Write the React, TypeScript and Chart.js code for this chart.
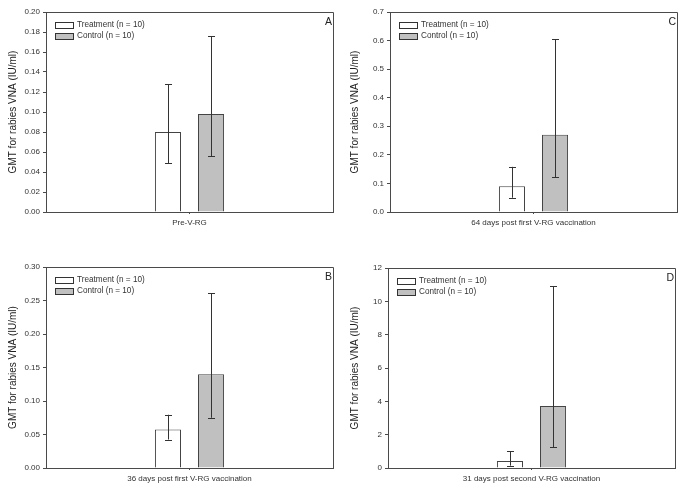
import React, { useEffect, useRef } from "react";
import { Chart, registerables } from "chart.js";

Chart.register(...registerables);

const FONT = "'Liberation Sans', Arial, sans-serif";

// Panels in reading order: top-left, top-right, bottom-left, bottom-right
const panelLetters = ["A", "C", "B", "D"];
const categoryLabels = [
  "Pre-V-RG",
  "64 days post first V-RG vaccination",
  "36 days post first V-RG vaccination",
  "31 days post second V-RG vaccination",
];
const seriesNames = ["Treatment (n = 10)", "Control (n = 10)"];

const treatmentGMT = [0.08, 0.09, 0.0575, 0.42];
const treatmentLower = [0.049, 0.05, 0.0425, 0.14];
const treatmentUpper = [0.128, 0.158, 0.0795, 1.0];

const controlGMT = [0.098, 0.27, 0.14, 3.72];
const controlLower = [0.056, 0.121, 0.075, 1.26];
const controlUpper = [0.176, 0.604, 0.261, 10.9];

const yMaxes = [0.2, 0.7, 0.3, 12];
const ySteps = [0.02, 0.1, 0.05, 2];
const yDecimals = [2, 1, 2, 0];
const yTitle = "GMT for rabies VNA (IU/ml)";

// layout of each canvas: [x, y, w, h, areaLeft, areaRight, areaTop, areaBottom]
const panelBoxes = [
  [0, 0, 342, 247, 46, 333, 12, 212],
  [342, 0, 343, 247, 48, 335, 12, 212],
  [0, 247, 342, 247, 46, 333, 20, 221],
  [342, 247, 343, 247, 46, 333, 21, 221],
];

const LINE = "#4a4a4a";

const extrasPlugin = {
  id: "extras",
  afterDatasetsDraw(chart: any, _args: any, opts: any) {
    const ctx = chart.ctx;
    const ya = chart.scales.y;
    ctx.save();
    ctx.strokeStyle = "#333";
    ctx.lineWidth = 1;
    opts.errors.forEach((err: any, di: number) => {
      const meta = chart.getDatasetMeta(di);
      meta.data.forEach((el: any, j: number) => {
        const x = Math.round(el.x) + 0.5;
        const yLo = ya.getPixelForValue(err.lower[j]);
        const yHi = ya.getPixelForValue(err.upper[j]);
        ctx.beginPath();
        ctx.moveTo(x, yLo);
        ctx.lineTo(x, yHi);
        ctx.moveTo(x - 3.5, Math.round(yLo) + 0.5);
        ctx.lineTo(x + 3.5, Math.round(yLo) + 0.5);
        ctx.moveTo(x - 3.5, Math.round(yHi) + 0.5);
        ctx.lineTo(x + 3.5, Math.round(yHi) + 0.5);
        ctx.stroke();
      });
    });
    ctx.restore();
  },
  afterDraw(chart: any, _args: any, opts: any) {
    const ctx = chart.ctx;
    const a = chart.chartArea;
    ctx.save();
    ctx.strokeStyle = LINE;
    ctx.lineWidth = 1;
    ctx.beginPath();
    ctx.moveTo(Math.round(a.left) + 0.5, Math.round(a.top) + 0.5);
    ctx.lineTo(Math.round(a.right) + 0.5, Math.round(a.top) + 0.5);
    ctx.lineTo(Math.round(a.right) + 0.5, Math.round(a.bottom) + 0.5);
    ctx.stroke();
    ctx.font = `8.2px ${FONT}`;
    ctx.textBaseline = "middle";
    ctx.textAlign = "left";
    chart.data.datasets.forEach((ds: any, i: number) => {
      const cy = Math.round(a.top + 13 + i * 11);
      const bx = Math.round(a.left + 9) + 0.5;
      ctx.fillStyle = ds.backgroundColor;
      ctx.fillRect(bx, cy - 3 + 0.5, 18, 6);
      ctx.strokeStyle = "#333";
      ctx.strokeRect(bx, cy - 3 + 0.5, 18, 6);
      ctx.fillStyle = "#333";
      ctx.fillText(ds.label, a.left + 31, cy);
    });
    ctx.font = `10.5px ${FONT}`;
    ctx.textAlign = "right";
    ctx.fillStyle = "#222";
    ctx.fillText(opts.letter, a.right - 1, a.top + 10);
    ctx.restore();
  },
};

function Panel({ idx }: { idx: number }) {
  const ref = useRef<HTMLCanvasElement>(null);
  const box = panelBoxes[idx];
  useEffect(() => {
    const [, , w, h, left, right, top, bottom] = box;
    const dec = yDecimals[idx];
    const chart = new Chart(ref.current as HTMLCanvasElement, {
      type: "bar",
      data: {
        labels: [categoryLabels[idx]],
        datasets: [
          {
            label: seriesNames[0],
            data: [treatmentGMT[idx]],
            backgroundColor: "#ffffff",
            borderColor: "#444",
            borderWidth: 1,
            categoryPercentage: 0.3,
            barPercentage: 0.605,
          },
          {
            label: seriesNames[1],
            data: [controlGMT[idx]],
            backgroundColor: "#c0c0c0",
            borderColor: "#444",
            borderWidth: 1,
            categoryPercentage: 0.3,
            barPercentage: 0.605,
          },
        ],
      },
      options: {
        responsive: false,
        animation: false,
        devicePixelRatio: 1,
        layout: { padding: { top, right: w - right, left: 0, bottom: 0 } },
        plugins: {
          legend: { display: false },
          tooltip: { enabled: false },
          extras: {
            letter: panelLetters[idx],
            errors: [
              { lower: [treatmentLower[idx]], upper: [treatmentUpper[idx]] },
              { lower: [controlLower[idx]], upper: [controlUpper[idx]] },
            ],
          },
        } as any,
        scales: {
          x: {
            type: "category",
            offset: true,
            grid: {
              offset: false,
              drawOnChartArea: false,
              drawTicks: true,
              tickLength: 2,
              color: LINE,
            },
            border: { color: LINE },
            ticks: { padding: 4, color: "#333", font: { size: 8, family: FONT } },
            afterFit: (s: any) => {
              s.height = h - bottom;
            },
          },
          y: {
            min: 0,
            max: yMaxes[idx],
            grid: {
              drawOnChartArea: false,
              drawTicks: true,
              tickLength: 3,
              color: LINE,
            },
            border: { color: LINE },
            ticks: {
              stepSize: ySteps[idx],
              padding: 3,
              color: "#333",
              font: { size: 8, family: FONT },
              callback: (v: any) => Number(v).toFixed(dec),
            },
            title: {
              display: true,
              text: yTitle,
              color: "#222",
              font: { size: 10, family: FONT },
              padding: { top: 7, bottom: 0 },
            },
            afterFit: (s: any) => {
              s.width = left;
            },
          },
        },
      } as any,
      plugins: [extrasPlugin],
    });
    return () => chart.destroy();
  }, []);
  return (
    <canvas
      ref={ref}
      width={box[2]}
      height={box[3]}
      style={{
        position: "absolute",
        left: box[0],
        top: box[1],
        width: box[2],
        height: box[3],
      }}
    />
  );
}

export default function App() {
  return (
    <div
      style={{
        position: "fixed",
        left: 0,
        top: 0,
        width: 685,
        height: 494,
        background: "#fff",
        overflow: "hidden",
      }}
    >
      {[0, 1, 2, 3].map((i) => (
        <Panel key={i} idx={i} />
      ))}
    </div>
  );
}
